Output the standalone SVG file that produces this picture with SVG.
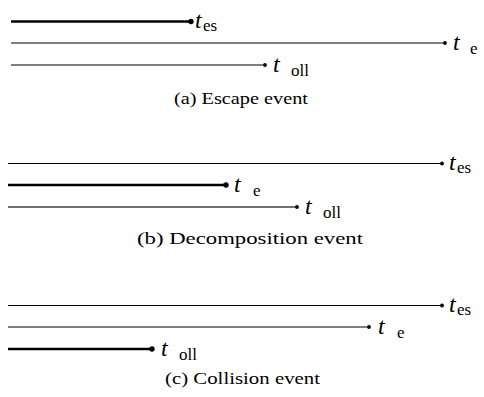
<svg xmlns="http://www.w3.org/2000/svg" width="484" height="397" viewBox="0 0 484 397">
  <style>
    .bg { fill: #ffffff; }
    .thick { stroke: #000000; stroke-width: 2.5; fill: none; }
    .thin { stroke: #000000; stroke-width: 1.1; fill: none; }
    .grey { stroke: #555555; stroke-width: 1.3; fill: none; }
    .greyb { stroke: #707070; stroke-width: 1.9; fill: none; }
    .dot { fill: #000000; }
    .lbl { font-family: "Liberation Serif", "DejaVu Serif", serif; fill: #000000; }
    .cap { font-family: "Liberation Serif", "DejaVu Serif", serif; fill: #000000; font-size: 17px; text-anchor: middle; }
  </style>
  <rect class="bg" x="0" y="0" width="484" height="397"/>

  <!-- (a) Escape event -->
  <g id="panel-a">
    <g id="connectors-a">
      <line class="thick" x1="11" y1="21.5" x2="191" y2="21.5"/>
      <line class="grey" x1="11" y1="43" x2="445" y2="43"/>
      <line class="grey" x1="11" y1="65" x2="265" y2="65"/>
    </g>
    <g id="a-es"><circle class="dot" cx="191" cy="21.5" r="2.7"/><text class="lbl" x="195" y="28" style="font-size:24px;font-style:italic">t</text><text class="lbl" x="203" y="30.5" style="font-size:17px">es</text></g>
    <g id="a-e"><circle class="dot" cx="445" cy="43" r="1.9"/><text class="lbl" x="453" y="50" style="font-size:24px;font-style:italic">t</text><text class="lbl" x="470" y="54" style="font-size:17px">e</text></g>
    <g id="a-oll"><circle class="dot" cx="265" cy="65" r="1.9"/><text class="lbl" x="273" y="72" style="font-size:24px;font-style:italic">t</text><text class="lbl" x="291" y="76" style="font-size:17px">oll</text></g>
    <text class="cap" x="241" y="104" textLength="134" lengthAdjust="spacingAndGlyphs">(a) Escape event</text>
  </g>

  <!-- (b) Decomposition event -->
  <g id="panel-b">
    <g id="connectors-b">
      <line class="thin" x1="8" y1="163.5" x2="442" y2="163.5"/>
      <line class="thick" x1="8" y1="185" x2="226" y2="185"/>
      <line class="greyb" x1="8" y1="207" x2="297" y2="207"/>
    </g>
    <g id="b-es"><circle class="dot" cx="442" cy="163.5" r="1.9"/><text class="lbl" x="449" y="170" style="font-size:24px;font-style:italic">t</text><text class="lbl" x="457" y="172.5" style="font-size:17px">es</text></g>
    <g id="b-e"><circle class="dot" cx="226" cy="185" r="2.7"/><text class="lbl" x="234" y="192" style="font-size:24px;font-style:italic">t</text><text class="lbl" x="253" y="196" style="font-size:17px">e</text></g>
    <g id="b-oll"><circle class="dot" cx="297" cy="207" r="1.9"/><text class="lbl" x="305" y="214" style="font-size:24px;font-style:italic">t</text><text class="lbl" x="323" y="218" style="font-size:17px">oll</text></g>
    <text class="cap" x="250" y="244" textLength="226" lengthAdjust="spacingAndGlyphs">(b) Decomposition event</text>
  </g>

  <!-- (c) Collision event -->
  <g id="panel-c">
    <g id="connectors-c">
      <line class="thin" x1="8" y1="305.5" x2="442" y2="305.5"/>
      <line class="thin" x1="8" y1="327" x2="369" y2="327"/>
      <line class="thick" x1="8" y1="349" x2="152" y2="349"/>
    </g>
    <g id="c-es"><circle class="dot" cx="442" cy="305.5" r="1.9"/><text class="lbl" x="449" y="312" style="font-size:24px;font-style:italic">t</text><text class="lbl" x="457" y="314.5" style="font-size:17px">es</text></g>
    <g id="c-e"><circle class="dot" cx="369" cy="327" r="1.9"/><text class="lbl" x="378" y="334" style="font-size:24px;font-style:italic">t</text><text class="lbl" x="397" y="338" style="font-size:17px">e</text></g>
    <g id="c-oll"><circle class="dot" cx="152" cy="349" r="2.7"/><text class="lbl" x="161" y="356" style="font-size:24px;font-style:italic">t</text><text class="lbl" x="179" y="360" style="font-size:17px">oll</text></g>
    <text class="cap" x="242.5" y="384" textLength="155" lengthAdjust="spacingAndGlyphs">(c) Collision event</text>
  </g>
</svg>
